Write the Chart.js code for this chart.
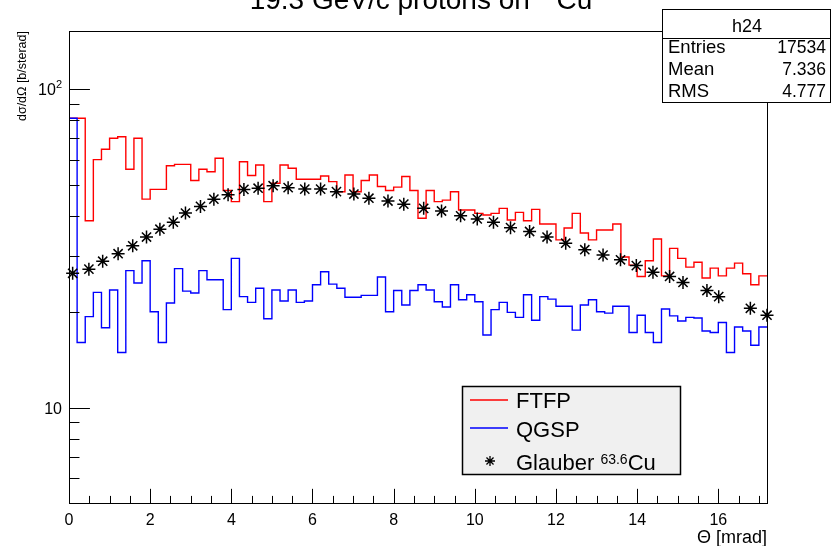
<!DOCTYPE html>
<html>
<head>
<meta charset="utf-8">
<script src="https://cdn.jsdelivr.net/npm/chart.js@4.4.0/dist/chart.umd.min.js"></script>
<style>
html, body { margin: 0; padding: 0; background: #fff; }
#wrap { width: 832px; height: 546px; }
</style>
</head>
<body>
<div id="wrap"><canvas id="h24" width="832" height="546"></canvas></div>
<script>
// histogram binning (mrad)
const binWidth = 0.2;
const xMin = 0, xMax = 17.2;
const yMin = 5.02, yMax = 152;

// FTFP, d sigma / d Omega per bin
const ftfp = [80.9, 80.9, 38.6, 60.0, 64.7, 70.0, 70.8, 56.0, 70.0, 45.1,
  48.4, 48.4, 57.4, 58.0, 58.0, 51.6, 56.0, 55.0, 60.6, 48.0,
  44.3, 59.1, 53.5, 57.7, 44.3, 50.6, 57.7, 56.4, 52.1, 52.1,
  52.1, 53.3, 51.2, 47.6, 53.7, 47.6, 51.6, 53.7, 49.4, 48.0,
  49.2, 53.1, 48.0, 39.3, 48.0, 44.3, 44.8, 47.6, 41.7, 41.7,
  40.7, 40.2, 40.7, 42.2, 38.8, 41.0, 38.6, 41.9, 37.7, 37.7,
  33.6, 36.6, 40.7, 35.3, 33.6, 36.1, 36.1, 37.7, 29.7, 28.0,
  25.8, 28.9, 33.8, 25.9, 31.6, 29.4, 27.6, 28.6, 25.5, 27.4,
  25.9, 27.4, 28.4, 26.3, 24.3, 25.9];

// QGSP
const qgsp = [80.9, 16.0, 19.3, 23.0, 17.8, 23.4, 14.9, 26.9, 24.6, 28.9,
  20.0, 16.0, 21.3, 27.3, 23.2, 22.9, 26.9, 25.2, 25.2, 20.3,
  29.4, 22.3, 21.4, 23.7, 19.0, 23.4, 21.6, 23.4, 21.4, 21.6,
  24.3, 26.7, 24.4, 23.7, 22.2, 22.2, 22.5, 22.5, 25.7, 20.0,
  23.3, 21.0, 23.3, 24.3, 23.4, 21.5, 20.7, 24.3, 21.8, 22.6,
  21.5, 16.9, 20.3, 21.4, 19.9, 19.2, 22.6, 18.8, 22.3, 21.9,
  20.8, 20.8, 17.5, 21.0, 21.8, 20.0, 19.8, 20.8, 20.8, 17.2,
  19.5, 17.2, 16.0, 20.4, 19.4, 18.7, 19.2, 19.1, 17.4, 17.2,
  18.5, 14.9, 17.9, 17.4, 15.7, 17.9];

// Glauber points
const glauberTheta = [0.09, 0.49, 0.83, 1.21, 1.57, 1.91, 2.24, 2.57, 2.87, 3.24,
  3.57, 3.92, 4.31, 4.66, 5.03, 5.40, 5.81, 6.20, 6.59, 7.02,
  7.39, 7.86, 8.25, 8.74, 9.18, 9.65, 10.06, 10.46, 10.88, 11.35,
  11.78, 12.24, 12.71, 13.16, 13.59, 13.98, 14.39, 14.80, 15.13, 15.72,
  16.01, 16.79, 17.20];
const glauberXsec = [26.4, 27.2, 28.8, 30.4, 32.2, 34.3, 36.3, 38.2, 40.8, 42.8,
  45.1, 46.6, 48.4, 48.8, 49.7, 49.0, 48.5, 48.5, 47.6, 46.8,
  45.4, 44.5, 43.5, 42.2, 41.4, 40.0, 39.1, 38.2, 36.7, 35.7,
  34.3, 32.8, 31.3, 30.1, 29.1, 27.9, 26.6, 25.8, 24.7, 23.3,
  22.3, 20.5, 19.5];

// axis labels
const xTickLabels = [0, 2, 4, 6, 8, 10, 12, 14, 16];
const yTickValues = [10, 100];
const yTickText = [['10', ''], ['10', '2']];

// stats box
const statNames = ['Entries', 'Mean', 'RMS'];
const statValues = ['17534', '7.336', '4.777'];

const FONT = '"Liberation Sans", Arial, Helvetica, sans-serif';

function histPoints(values) {
  const pts = values.map((v, i) => ({ x: i * binWidth, y: v }));
  pts.push({ x: values.length * binWidth, y: values[values.length - 1] });
  return pts;
}

// text with a superscript part: parts = [[text, isSup], ...]
function richWidth(ctx, parts, size, supSize) {
  let w = 0;
  for (const [t, sup] of parts) {
    ctx.font = (sup ? supSize : size) + 'px ' + FONT;
    w += ctx.measureText(t).width;
  }
  return w;
}
function drawRich(ctx, parts, x, y, size, supSize, supRise, align) {
  const w = richWidth(ctx, parts, size, supSize);
  let cx = align === 'center' ? x - w / 2 : align === 'right' ? x - w : x;
  ctx.textAlign = 'left';
  for (const [t, sup] of parts) {
    ctx.font = (sup ? supSize : size) + 'px ' + FONT;
    ctx.fillText(t, cx, sup ? y - supRise : y);
    cx += ctx.measureText(t).width;
  }
}

function drawStar(ctx, x, y, r) {
  ctx.beginPath();
  for (let k = 0; k < 4; k++) {
    const ang = k * Math.PI / 4;
    ctx.moveTo(x - r * Math.cos(ang), y - r * Math.sin(ang));
    ctx.lineTo(x + r * Math.cos(ang), y + r * Math.sin(ang));
  }
  ctx.stroke();
}

const rootStyle = {
  id: 'rootStyle',
  beforeDraw(chart) {
    const ctx = chart.ctx;
    ctx.save();
    ctx.fillStyle = '#fff';
    ctx.fillRect(0, 0, chart.width, chart.height);
    ctx.restore();
  },
  afterDraw(chart) {
    const ctx = chart.ctx;
    const a = chart.chartArea;
    const xs = chart.scales.x, ys = chart.scales.y;
    ctx.save();
    ctx.strokeStyle = '#000';
    ctx.fillStyle = '#000';
    ctx.lineWidth = 1;

    // frame
    ctx.strokeRect(Math.round(a.left) + 0.5, Math.round(a.top) + 0.5,
      Math.round(a.right - a.left), Math.round(a.bottom - a.top));

    // x ticks, pointing into the frame
    const xh = a.bottom - a.top;
    for (let i = 0; i * 0.5 <= xMax + 1e-9; i++) {
      const px = Math.round(xs.getPixelForValue(i * 0.5)) + 0.5;
      const len = i % 4 === 0 ? 0.03 * xh : 0.015 * xh;
      ctx.beginPath();
      ctx.moveTo(px, a.bottom);
      ctx.lineTo(px, a.bottom - len);
      ctx.stroke();
    }
    // y ticks (log)
    const yw = a.right - a.left;
    for (let k = 0; k <= 2; k++) {
      for (let m = 1; m <= 9; m++) {
        const v = m * Math.pow(10, k);
        if (v < yMin || v > yMax) continue;
        const py = Math.round(ys.getPixelForValue(v)) + 0.5;
        const len = m === 1 ? 0.03 * yw : 0.015 * yw;
        ctx.beginPath();
        ctx.moveTo(a.left, py);
        ctx.lineTo(a.left + len, py);
        ctx.stroke();
      }
    }

    // x tick labels
    ctx.font = '16px ' + FONT;
    ctx.textAlign = 'center';
    ctx.textBaseline = 'alphabetic';
    xTickLabels.forEach(v => {
      ctx.fillText(String(v), xs.getPixelForValue(v), a.bottom + 22);
    });
    // y tick labels
    yTickValues.forEach((v, i) => {
      const py = ys.getPixelForValue(v);
      const [base, sup] = yTickText[i];
      drawRich(ctx, [[base, false], [sup, true]], a.left - 7, py + 6, 16, 11, 7, 'right');
    });

    // axis titles
    ctx.font = '18px ' + FONT;
    ctx.textAlign = 'right';
    ctx.fillText('\u0398 [mrad]', a.right, 543);
    ctx.save();
    ctx.translate(26, a.top);
    ctx.rotate(-Math.PI / 2);
    ctx.font = '12.5px ' + FONT;
    ctx.textAlign = 'right';
    ctx.fillText('d\u03c3/d\u03a9 [b/sterad]', 0, 0);
    ctx.restore();

    // title (top is cut by the canvas edge)
    drawRich(ctx, [['19.3 GeV/c protons on ', false], ['63', true], ['Cu', false]],
      421, 9, 28, 17, 11, 'center');

    // stats box
    const sx = 662.5, sy = 9.5, sw = 168, sh = 93;
    ctx.fillStyle = '#fff';
    ctx.fillRect(sx, sy, sw, sh);
    ctx.strokeRect(sx, sy, sw, sh);
    ctx.beginPath();
    ctx.moveTo(sx, 38.5);
    ctx.lineTo(sx + sw, 38.5);
    ctx.stroke();
    ctx.fillStyle = '#000';
    ctx.font = '18px ' + FONT;
    ctx.textAlign = 'center';
    ctx.fillText('h24', 747, 32);
    statNames.forEach((n, i) => {
      const by = 53 + i * 22;
      ctx.font = '18.5px ' + FONT;
      ctx.textAlign = 'left';
      ctx.fillText(n, 668, by);
      ctx.font = '17.5px ' + FONT;
      ctx.textAlign = 'right';
      ctx.fillText(statValues[i], 826, by);
    });

    // legend box
    const lx = 462.5, ly = 386.5, lw = 218, lh = 88;
    ctx.fillStyle = '#f0f0f0';
    ctx.fillRect(lx, ly, lw, lh);
    ctx.lineWidth = 1.5;
    ctx.strokeRect(lx, ly, lw, lh);
    ctx.lineWidth = 1.3;
    chart.data.datasets.forEach(ds => {
      if (ds.legendY === undefined) return;
      ctx.strokeStyle = ds.borderColor;
      if (ds.type === 'scatter') {
        drawStar(ctx, 490, ds.legendY, 5);
      } else {
        ctx.beginPath();
        ctx.moveTo(470, ds.legendY);
        ctx.lineTo(508, ds.legendY);
        ctx.stroke();
      }
    });
    ctx.fillStyle = '#000';
    drawRich(ctx, [['FTFP', false]], 516, 408, 22, 14, 0, 'left');
    drawRich(ctx, [['QGSP', false]], 516, 437, 22, 14, 0, 'left');
    drawRich(ctx, [['Glauber ', false], ['63.6', true], ['Cu', false]], 516, 470, 22, 14, 6, 'left');
    ctx.restore();
  }
};

const ctx = document.getElementById('h24').getContext('2d');
const chart = new Chart(ctx, {
  type: 'line',
  data: {
    datasets: [
      {
        type: 'scatter',
        label: 'Glauber 63.6Cu',
        data: glauberTheta.map((t, i) => ({ x: t, y: glauberXsec[i] })),
        pointStyle: 'star',
        pointRadius: 6.5,
        borderColor: '#000',
        backgroundColor: '#000',
        borderWidth: 1.5,
        clip: false,
        legendY: 461
      },
      {
        label: 'QGSP',
        data: histPoints(qgsp),
        stepped: 'before',
        borderColor: 'rgb(0, 0, 255)',
        borderWidth: 1.4,
        pointRadius: 0,
        fill: false,
        legendY: 428
      },
      {
        label: 'FTFP',
        data: histPoints(ftfp),
        stepped: 'before',
        borderColor: 'rgb(255, 0, 0)',
        borderWidth: 1.4,
        pointRadius: 0,
        fill: false,
        legendY: 400
      }
    ]
  },
  options: {
    responsive: false,
    animation: false,
    devicePixelRatio: 1,
    layout: { padding: { left: 69, right: 65, top: 31, bottom: 43 } },
    scales: {
      x: { type: 'linear', min: xMin, max: xMax, display: false },
      y: { type: 'logarithmic', min: yMin, max: yMax, display: false }
    },
    plugins: {
      legend: { display: false },
      tooltip: { enabled: false }
    }
  },
  plugins: [rootStyle]
});
</script>
</body>
</html>
